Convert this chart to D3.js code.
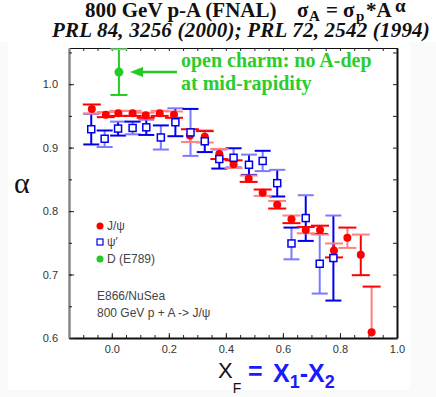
<!DOCTYPE html>
<html>
<head>
<meta charset="utf-8">
<script src="https://cdn.jsdelivr.net/npm/d3@7"></script>
<style>
body{margin:0;background:#fafafa;}
svg{display:block;}
</style>
</head>
<body>
<div id="chart"></div>
<script>
// ---- data ----
const jpsiXF=[-0.070,-0.021,0.023,0.073,0.119,0.168,0.218,0.274,0.326,0.377,0.427,0.480,0.529,0.580,0.630,0.680,0.730,0.779,0.826,0.873,0.911];
const jpsiAlpha=[0.961,0.952,0.954,0.954,0.951,0.954,0.952,0.919,0.917,0.890,0.874,0.851,0.829,0.810,0.787,0.770,0.770,0.738,0.758,0.731,0.609];
const jpsiErr=[0.007,0.004,0.004,0.004,0.004,0.004,0.005,0.010,0.009,0.008,0.006,0.005,0.005,0.006,0.006,0.005,0.007,0.011,0.016,0.032,0.072];
const jpsiShade=[1,0,0,0,0,0,0,1,1,0,1,0,1,0,0,1,1,0,1,0,1];

const psi2XF=[-0.072,-0.025,0.022,0.073,0.121,0.172,0.223,0.276,0.326,0.377,0.427,0.481,0.529,0.580,0.630,0.680,0.729,0.777];
const psi2Alpha=[0.929,0.914,0.930,0.931,0.932,0.916,0.940,0.924,0.910,0.882,0.884,0.873,0.879,0.844,0.749,0.789,0.717,0.726];
const psi2Err=[0.024,0.013,0.011,0.010,0.012,0.019,0.022,0.037,0.017,0.015,0.015,0.016,0.016,0.021,0.025,0.036,0.047,0.067];
const psi2Shade=[0,1,0,1,0,1,0,1,0,0,1,0,1,0,1,0,1,0];

const dXF=[0.025];
const dAlpha=[1.019];
const dErr=[0.036];

const xMajorTicks=[0.0,0.2,0.4,0.6,0.8,1.0];
const yMajorTicks=[0.6,0.7,0.8,0.9,1.0];
const legendLabels=['J/\u03c8','\u03c8\u2032','D (E789)'];

// ---- layout ----
const W=436,H=397;
const M={top:48,right:39,bottom:59,left:69};
const RED=['#ff0000','#ff8080'],BLUE=['#0000ee','#7b7bff'],GREEN=['#22cc22','#77e077'];
const SANS='"Liberation Sans",Arial,sans-serif',SERIF='"Liberation Serif","Times New Roman",serif';

const svg=d3.select('#chart').append('svg').attr('width',W).attr('height',H);
svg.append('rect').attr('x',8).attr('y',42).attr('width',402).attr('height',348).attr('fill','#fff');
svg.append('rect').attr('x',0).attr('y',0).attr('width',W).attr('height',42).attr('fill','#fff');

const x=d3.scaleLinear().domain([-0.15,1.0]).range([M.left,W-M.right]);
const y=d3.scaleLinear().domain([0.6,1.057]).range([H-M.bottom,M.top]);
const minorX=d3.range(-0.10,1.0001,0.05).map(v=>+v.toFixed(2));
const minorY=d3.range(0.60,1.0501,0.05).map(v=>+v.toFixed(2));

// ---- axes ----
function styleAxis(g,stroke,w){
  g.select('.domain').attr('stroke',stroke).attr('stroke-width',w);
  g.selectAll('.tick line').attr('stroke','#222').attr('stroke-width',1);
  g.selectAll('.tick text').attr('fill','#333').style('font-family',SANS).style('font-size','11px');
}
const yb=y.range()[0],yt=y.range()[1];
svg.append('g').attr('transform',`translate(0,${yb})`)
  .call(d3.axisBottom(x).tickValues(minorX).tickSizeInner(-3).tickSizeOuter(0).tickFormat(''))
  .call(g=>styleAxis(g,'#111',2));
svg.append('g').attr('transform',`translate(0,${yb})`)
  .call(d3.axisBottom(x).tickValues(xMajorTicks).tickSizeInner(-5).tickSizeOuter(0).tickPadding(7).tickFormat(d3.format('.1f')))
  .call(g=>{styleAxis(g,'none',0);g.select('.domain').remove();});
svg.append('g').attr('transform',`translate(0,${yt})`)
  .call(d3.axisTop(x).tickValues(minorX).tickSizeInner(-3).tickSizeOuter(0).tickFormat(''))
  .call(g=>styleAxis(g,'#111',1));
svg.append('g').attr('transform',`translate(${M.left},0)`)
  .call(d3.axisLeft(y).tickValues(minorY).tickSizeInner(-3).tickSizeOuter(0).tickFormat(''))
  .call(g=>styleAxis(g,'#888',2.5));
svg.append('g').attr('transform',`translate(${M.left},0)`)
  .call(d3.axisLeft(y).tickValues(yMajorTicks).tickSizeInner(-5).tickSizeOuter(0).tickPadding(11).tickFormat(d3.format('.1f')))
  .call(g=>{styleAxis(g,'none',0);g.select('.domain').remove();});
svg.append('g').attr('transform',`translate(${W-M.right},0)`)
  .call(d3.axisRight(y).tickValues(minorY).tickSizeInner(-4).tickSizeOuter(0).tickFormat(''))
  .call(g=>styleAxis(g,'#111',2));

// ---- data marks ----
svg.append('clipPath').attr('id','plot').append('rect')
  .attr('x',M.left).attr('y',M.top).attr('width',W-M.left-M.right).attr('height',H-M.top-M.bottom);
const plot=svg.append('g').attr('clip-path','url(#plot)');

function errBars(xs,as,es,shade,cols,half){
  const d=xs.map((v,i)=>({x:v,a:as[i],e:es[i],c:cols[shade?shade[i]:0],c2:cols[shade?1-shade[i]:1]}));
  const g=plot.append('g');
  g.selectAll('.stem').data(d).enter().append('line')
    .attr('x1',p=>x(p.x)).attr('x2',p=>x(p.x))
    .attr('y1',p=>y(p.a+p.e)).attr('y2',p=>y(p.a-p.e))
    .attr('stroke',p=>p.c).attr('stroke-width',2);
  g.selectAll('.capt').data(d).enter().append('line')
    .attr('x1',p=>x(p.x)-half).attr('x2',p=>x(p.x)+half)
    .attr('y1',p=>y(p.a+p.e)).attr('y2',p=>y(p.a+p.e))
    .attr('stroke',p=>p.c2).attr('stroke-width',2);
  g.selectAll('.capb').data(d).enter().append('line')
    .attr('x1',p=>x(p.x)-half).attr('x2',p=>x(p.x)+half)
    .attr('y1',p=>y(p.a-p.e)).attr('y2',p=>y(p.a-p.e))
    .attr('stroke',p=>p.c).attr('stroke-width',2);
  return d;
}

const dPsi2=errBars(psi2XF,psi2Alpha,psi2Err,psi2Shade,BLUE,8);
const dJpsi=errBars(jpsiXF,jpsiAlpha,jpsiErr,jpsiShade,RED,9);
const dD=errBars(dXF,dAlpha,dErr,null,GREEN,8.5);

plot.selectAll('.jpsi').data(dJpsi).enter().append('circle')
  .attr('cx',p=>x(p.x)).attr('cy',p=>y(p.a)).attr('r',4).attr('fill',RED[0]);
plot.selectAll('.psi2').data(dPsi2).enter().append('rect')
  .attr('x',p=>x(p.x)-3.5).attr('y',p=>y(p.a)-3.5).attr('width',7).attr('height',7)
  .attr('fill','#fff').attr('stroke',BLUE[0]).attr('stroke-width',1.5);
plot.selectAll('.dmes').data(dD).enter().append('circle')
  .attr('cx',p=>x(p.x)).attr('cy',p=>y(p.a)).attr('r',4.5).attr('fill',GREEN[0]);

// ---- legend ----
const lg=svg.append('g').attr('transform','translate(100,226)');
lg.append('circle').attr('cx',0).attr('cy',0).attr('r',3.5).attr('fill',RED[0]);
lg.append('rect').attr('x',-3).attr('y',13).attr('width',6).attr('height',6)
  .attr('fill','#fff').attr('stroke',BLUE[0]).attr('stroke-width',1.2);
lg.append('circle').attr('cx',0).attr('cy',33).attr('r',3.5).attr('fill',GREEN[0]);
lg.selectAll('.lt').data(legendLabels).enter().append('text')
  .attr('x',7).attr('y',(d,i)=>[0,16,33][i]).attr('dy','0.36em')
  .attr('fill','#444').style('font-family',SANS).style('font-size','12px').text(d=>d);
svg.append('text').attr('x',97).attr('y',300).attr('fill','#444')
  .style('font-family',SANS).style('font-size','12px').text('E866/NuSea');
svg.append('text').attr('x',97).attr('y',317).attr('fill','#444')
  .style('font-family',SANS).style('font-size','12px').text('800 GeV p + A -> J/\u03c8');

// ---- annotation ----
const ay=y(dAlpha[0]);
svg.append('line').attr('x1',177).attr('x2',140).attr('y1',ay).attr('y2',ay)
  .attr('stroke',GREEN[0]).attr('stroke-width',2.5);
svg.append('path').attr('d',`M130,${ay}L143,${ay-5}L143,${ay+5}Z`).attr('fill',GREEN[0]);
svg.append('text').attr('x',181).attr('y',67).attr('fill','#2ccc2c')
  .style('font-family',SERIF).style('font-weight','bold').style('font-size','20px').text('open charm: no A-dep');
svg.append('text').attr('x',181).attr('y',90).attr('fill','#2ccc2c')
  .style('font-family',SERIF).style('font-weight','bold').style('font-size','20px').text('at mid-rapidity');

// ---- titles ----
function tText(xp,yp,size,str){
  return svg.append('text').attr('x',xp).attr('y',yp).attr('fill','#111')
    .style('font-family',SERIF).style('font-weight','bold').style('font-size',size+'px').text(str);
}
tText(85,17,21,'800 GeV p-A (FNAL)');
tText(297,17,21,'\u03c3');
tText(309,21,15,'A');
tText(326,17,21,'=');
tText(343,17,21,'\u03c3');
tText(356,21,15,'p');
tText(366,17,21,'*A');
tText(395,12,19,'\u03b1');
svg.append('text').attr('x',52).attr('y',37).attr('fill','#111')
  .style('font-family',SERIF).style('font-weight','bold').style('font-style','italic').style('font-size','21px')
  .style('letter-spacing','0.2px')
  .text('PRL 84, 3256 (2000); PRL 72, 2542 (1994)');

// y label
svg.append('text').attr('x',14).attr('y',193).attr('fill','#111')
  .style('font-family',SERIF).style('font-size','30px').text('\u03b1');

// x label
const xl=svg.append('text').attr('x',218).attr('y',378).attr('fill','#111')
  .style('font-family',SANS).style('font-size','22px');
xl.append('tspan').text('X');
xl.append('tspan').attr('dy',15).style('font-size','14px').text('F');
const xr=svg.append('text').attr('x',248).attr('y',382).attr('fill','#1a1aff')
  .style('font-family',SANS).style('font-weight','bold').style('font-size','25px');
xr.append('tspan').attr('dy',-2).text('=');
xr.append('tspan').attr('x',273).attr('dy',2).text('X');
xr.append('tspan').attr('dy',6).style('font-size','18px').text('1');
xr.append('tspan').attr('dy',-6).text('-X');
xr.append('tspan').attr('dy',6).style('font-size','18px').text('2');
</script>
</body>
</html>
